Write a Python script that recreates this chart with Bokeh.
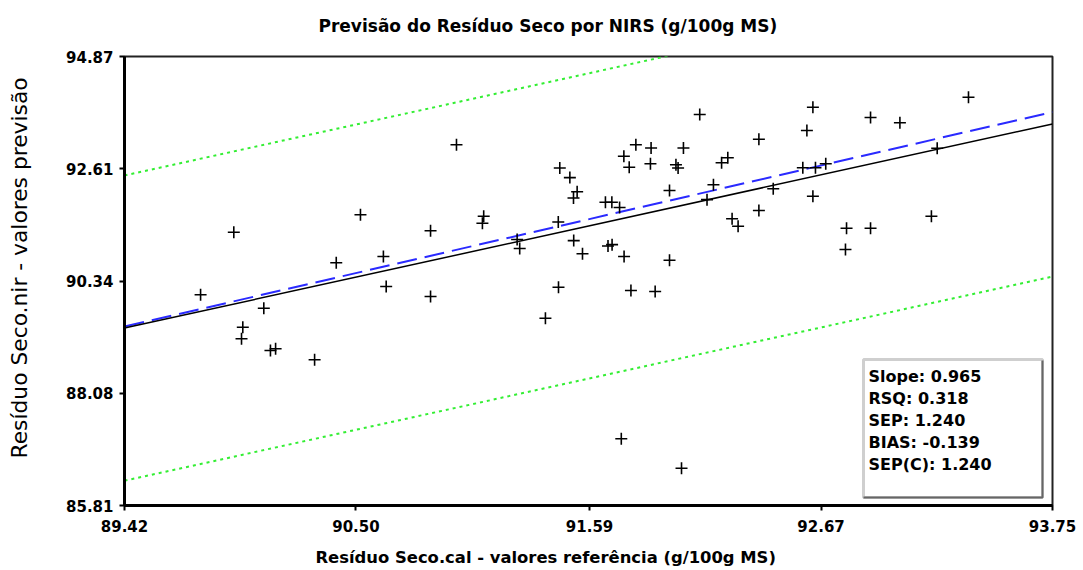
from bokeh.plotting import figure
from bokeh.models import FixedTicker, Range1d, ColumnDataSource, Title
from bokeh.core.properties import value
from bokeh.embed import file_html
from bokeh.resources import INLINE

title_text = "Previsão do Resíduo Seco por NIRS (g/100g MS)"
x_label = "Resíduo Seco.cal - valores referência (g/100g MS)"
y_label = "Resíduo Seco.nir - valores previsão"

x_tick_labels = ["89.42", "90.50", "91.59", "92.67", "93.75"]
y_tick_labels = ["85.81", "88.08", "90.34", "92.61", "94.87"]

ref_values = [89.930, 90.521, 90.408, 90.628, 90.641, 90.969, 90.848, 91.096, 91.090, 91.252,
              91.264, 91.451, 91.498, 91.532, 91.515, 91.444, 91.516, 91.557, 91.445, 89.775,
              90.070, 89.972, 89.966, 90.101, 90.125, 90.307, 90.848, 91.384, 92.104, 91.806,
              91.877, 92.028, 91.750, 91.775, 91.874, 91.993, 92.003, 92.206, 92.235, 92.380,
              92.632, 92.604, 92.901, 93.038, 93.358, 92.168, 91.963, 92.138, 92.447, 92.585,
              92.644, 92.692, 93.212, 91.664, 91.694, 91.730, 92.380, 92.632, 92.255, 92.283,
              93.185, 92.789, 92.901, 92.784, 91.676, 91.695, 91.751, 91.963, 91.783, 91.896,
              91.738, 92.019]
nir_values = [91.325, 91.676, 90.707, 90.834, 90.229, 93.088, 91.353, 91.648, 91.506, 91.177,
              90.996, 92.620, 92.426, 92.142, 92.015, 91.531, 91.155, 90.891, 90.215, 90.062,
              89.791, 89.408, 89.174, 88.938, 88.972, 88.750, 90.027, 89.589, 93.700, 93.088,
              93.024, 93.024, 92.858, 92.636, 92.705, 92.687, 92.620, 92.725, 92.826, 93.201,
              93.847, 93.377, 93.639, 93.532, 94.049, 92.283, 92.166, 91.981, 92.200, 92.624,
              92.624, 92.705, 93.020, 91.930, 91.930, 91.823, 91.763, 92.051, 91.595, 91.446,
              91.648, 91.405, 91.405, 90.976, 91.046, 91.073, 90.834, 90.760, 90.148, 90.128,
              87.156, 86.563]

line_x = [89.42, 93.75]
fit_y = [89.39, 93.51]
limit_offset = 3.08
stats_labels = ["Slope: 0.965", "RSQ: 0.318", "SEP: 1.240", "BIAS: -0.139", "SEP(C): 1.240"]

x_ticks = [float(t) for t in x_tick_labels]
y_ticks = [float(t) for t in y_tick_labels]
X0, X1 = x_ticks[0], x_ticks[-1]
Y0, Y1 = y_ticks[0], y_ticks[-1]

W, H = 1083, 570
FL, FR, FT, FB = 124, 1052, 56, 505


def sx(px):
    return X0 + (px - FL) * (X1 - X0) / (FR - FL)


def sy(py):
    return Y1 - (py - FT) * (Y1 - Y0) / (FB - FT)


p = figure(width=W, height=H, output_backend="svg", toolbar_location=None,
           x_range=Range1d(X0, X1), y_range=Range1d(Y0, Y1),
           min_border_left=FL, min_border_right=W - FR,
           min_border_top=FT, min_border_bottom=H - FB)
p.background_fill_color = "white"
p.border_fill_color = "white"
p.outline_line_color = "#222222"
p.outline_line_width = 2
p.xgrid.visible = False
p.ygrid.visible = False

for ax, ticks, labels in ((p.xaxis[0], x_ticks, x_tick_labels), (p.yaxis[0], y_ticks, y_tick_labels)):
    ax.ticker = FixedTicker(ticks=ticks)
    ax.major_label_overrides = {t: l for t, l in zip(ticks, labels)}
    ax.minor_tick_line_color = None
    ax.major_tick_in = 0
    ax.major_tick_out = 5
    ax.major_tick_line_color = "black"
    ax.major_tick_line_width = 2
    ax.axis_line_color = "black"
    ax.axis_line_width = 3
    ax.major_label_text_font = "DejaVu Sans"
    ax.major_label_text_font_size = "15px"
    ax.major_label_text_font_style = "bold"
    ax.major_label_text_color = "black"
p.xaxis.major_label_standoff = 9
p.yaxis.major_label_standoff = 6


def spacer(gap):
    return Title(text=" ", text_font_size="1px", standoff=gap)


# top title (spacer keeps it away from the frame)
p.add_layout(spacer(18), "above")
p.add_layout(Title(text=title_text, align="left", offset=194, standoff=0,
                   text_font="DejaVu Sans", text_font_size="17px", text_font_style="bold",
                   text_color="black"), "above")
# x-axis title
p.add_layout(spacer(8), "below")
p.add_layout(Title(text=x_label, align="left", offset=191, standoff=0,
                   text_font="DejaVu Sans", text_font_size="16.4px", text_font_style="bold",
                   text_color="black"), "below")
# y-axis title
p.add_layout(spacer(29), "left")
p.add_layout(Title(text=y_label, align="left", offset=47, standoff=0,
                   text_font="DejaVu Sans", text_font_size="21.8px", text_font_style="normal",
                   text_color="black"), "left")

# confidence limits
upper = [v + limit_offset for v in fit_y]
lower = [v - limit_offset for v in fit_y]
p.line(line_x, upper, line_color="#33ee33", line_width=2, line_dash="3 4")
p.line(line_x, lower, line_color="#33ee33", line_width=2, line_dash="3 4")
# 1:1 line
p.line(line_x, line_x, line_color="#2a2aff", line_width=2, line_dash="20 8")
# regression line
p.line(line_x, fit_y, line_color="black", line_width=1.5)

src = ColumnDataSource(dict(x=ref_values, y=nir_values))
p.scatter("x", "y", source=src, marker="cross", size=12, line_color="black", line_width=1.6)

# stats box
p.quad(left=[sx(863)], right=[sx(1042)], top=[sy(359)], bottom=[sy(497)],
       fill_color="white", line_color="#cfcfcf", line_width=3)
p.line([sx(1042), sx(1042), sx(863)], [sy(360), sy(497), sy(497)], line_color="#666666", line_width=2)
ty = [sy(376 + 22 * i) for i in range(len(stats_labels))]
p.text(x=[sx(868)] * len(stats_labels), y=ty, text=stats_labels,
       text_font=value("DejaVu Sans"), text_font_size="16px", text_font_style="bold",
       text_color="black", text_baseline="middle", text_align="left")

open("out.html", "w").write(file_html(p, INLINE))
